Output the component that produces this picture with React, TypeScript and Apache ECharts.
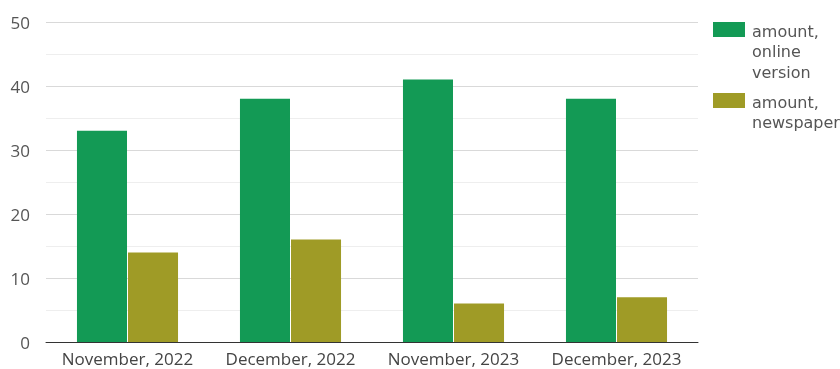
import React, { useEffect, useRef } from "react";
import * as echarts from "echarts";

const categories = ["November, 2022", "December, 2022", "November, 2023", "December, 2023"];
const seriesNames = ["amount, online version", "amount, newspaper"];
const legendLines = [["amount,", "online", "version"], ["amount,", "newspaper"]];
const onlineValues = [33, 38, 41, 38];
const newspaperValues = [14, 16, 6, 7];
const colors = ["#139a55", "#9f9b26"];

export default function App() {
  const ref = useRef<HTMLDivElement>(null);
  useEffect(() => {
    if (!ref.current) return;
    const chart = echarts.init(ref.current, null, { renderer: "svg" });
    const font = "'Open Sans', 'Noto Sans', sans-serif";
    const legendFont = "'DejaVu Sans', sans-serif";
    const legendTops = [22, 93];
    const graphic: any[] = [];
    legendLines.forEach((lines, i) => {
      graphic.push({
        type: "rect",
        x: 713,
        y: legendTops[i],
        shape: { width: 32, height: 15 },
        style: { fill: colors[i] },
      });
      lines.forEach((ln, j) => {
        graphic.push({
          type: "text",
          x: 752,
          y: legendTops[i] + 9 + j * 20.5,
          style: { text: ln, fill: "#555", font: `16px ${legendFont}`, verticalAlign: "middle", align: "left" },
        });
      });
    });
    chart.setOption({
      animation: false,
      grid: { left: 46, right: 142, top: 22, bottom: 27 },
      textStyle: { fontFamily: font },
      xAxis: {
        type: "category",
        data: categories,
        axisLine: { lineStyle: { color: "#333", width: 1 } },
        axisTick: { show: false },
        axisLabel: { color: "#444", fontSize: 17, margin: 8, interval: 0, fontFamily: font },
      },
      yAxis: {
        type: "value",
        min: 0,
        max: 50,
        interval: 10,
        axisLine: { show: false },
        axisTick: { show: false },
        axisLabel: { color: "#555", fontSize: 17, margin: 16, fontFamily: font },
        splitLine: { lineStyle: { color: "#d9d9d9" } },
        minorTick: { show: false, splitNumber: 2 },
        minorSplitLine: { show: true, lineStyle: { color: "#eeeeee" } },
      },
      graphic,
      series: [
        {
          name: seriesNames[0],
          type: "bar",
          data: onlineValues,
          itemStyle: { color: colors[0] },
          barGap: "2%",
          barCategoryGap: "38%",
        },
        {
          name: seriesNames[1],
          type: "bar",
          data: newspaperValues,
          itemStyle: { color: colors[1] },
        },
      ],
    });
    return () => chart.dispose();
  }, []);
  return <div ref={ref} style={{ position: "fixed", left: 0, top: 0, width: 840, height: 369 }} />;
}
